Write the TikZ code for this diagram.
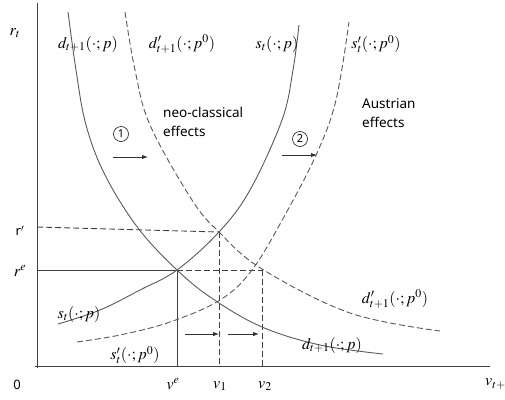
\documentclass[tikz,border=0pt]{standalone}
\usepackage{mathptmx}
\usepackage[no-math]{fontspec}
\setmainfont{Liberation Serif}
\newfontfamily\labsans{Noto Sans}
\usetikzlibrary{arrows.meta}
\tikzset{
  axis/.style={draw=black!75, line width=0.9pt},
  curve/.style={draw=black!65, line width=0.9pt},
  dcurve/.style={draw=black!65, line width=0.9pt, dash pattern=on 6pt off 3pt},
  guide/.style={draw=black!75, line width=0.9pt},
  dguide/.style={draw=black!75, line width=0.9pt, dash pattern=on 6pt off 3pt},
  shiftarrow/.style={draw=black!80, line width=0.9pt, -{Latex[length=6pt,width=4.5pt]}},
  mlab/.style={font=\fontsize{16}{18}\selectfont, inner sep=0pt},
  tlab/.style={font=\labsans\fontsize{13.5}{19}\selectfont, align=left, anchor=north west, inner sep=0pt},
  circ/.style={circle, draw=black!80, line width=0.7pt, minimum size=15pt, inner sep=0pt, font=\labsans\fontsize{11}{12}\selectfont}
}
\begin{document}
\begin{tikzpicture}[x=1pt,y=-1pt]
\useasboundingbox (0,0) rectangle (505,399);
% axes
\draw[axis] (37,3) -- (37,368);
\draw[axis] (35,366) -- (490,366);
% key points
\coordinate (E) at (177,270);
\coordinate (A) at (219,232);
\coordinate (B) at (262,270);
\coordinate (ry1) at (37,227);
\coordinate (ry2) at (37,270);
\coordinate (ve) at (177,366);
\coordinate (v1) at (219,366);
\coordinate (v2) at (262,366);
% guide lines
\draw[dguide] (ry1) -- (A);
\draw[guide] (ry2) -- (E);
\draw[dguide] (E) -- (B);
\draw[guide] (E) -- (ve);
\draw[dguide] (A) -- (v1);
\draw[dguide] (B) -- (v2);
% curves
\draw[curve] plot[smooth, tension=0.6] coordinates {(68,12) (76,70) (86,125) (105,175) (138,228) (177,270) (213,299) (262,327) (320,345) (383,354)};
\draw[dcurve] plot[smooth, tension=0.6] coordinates {(125,12) (135,70) (150,125) (192,200) (219,232) (262,269) (350,313) (440,331)};
\draw[curve] plot[smooth, tension=0.6] coordinates {(58,324) (100,310) (140,290) (177,270) (219,232) (250,190) (282,120) (293,70) (299,25)};
\draw[dcurve] plot[smooth, tension=0.6] coordinates {(77,342) (120,335) (170,322) (220,300) (252,270) (285,215) (317,153) (336,100) (349,22)};
% shift arrows
\coordinate (a1s) at (113,157); \coordinate (a1e) at (148,157);
\coordinate (a2s) at (282,155); \coordinate (a2e) at (317,155);
\coordinate (a3s) at (185,334); \coordinate (a3e) at (219,334);
\coordinate (a4s) at (228,334); \coordinate (a4e) at (259,334);
\draw[shiftarrow] (a1s) -- (a1e);
\draw[shiftarrow] (a2s) -- (a2e);
\draw[shiftarrow] (a3s) -- (a3e);
\draw[shiftarrow] (a4s) -- (a4e);
% labels
\node[circ] (c1) at (121,134) {1};
\node[circ] (c2) at (300,139) {2};
\node[tlab] (neo) at (163,107) {neo-classical\\effects};
\node[tlab] (aus) at (362,98) {Austrian\\effects};
\node[mlab] (l1) at (88,44) {$d_{t+1}(\cdot;p)$};
\node[mlab] (l2) at (182,44) {$d'_{t+1}(\cdot;p^0)$};
\node[mlab] (l3) at (277,44) {$s_t(\cdot;p)$};
\node[mlab] (l4) at (376,44) {$s'_t(\cdot;p^0)$};
\node[mlab] (l5) at (79,314) {$s_t(\cdot;p)$};
\node[mlab] (l6) at (135,355) {$s'_t(\cdot;p^0)$};
\node[mlab] (l7) at (395,299) {$d'_{t+1}(\cdot;p^0)$};
\node[mlab] (l8) at (332,345) {$d_{t+1}(\cdot;p)$};
\node[mlab] (rt) at (15,33) {$r_t$};
\node[font=\labsans\fontsize{13}{15}\selectfont, inner sep=0pt] (rp) at (20,231) {r$'$};
\node[mlab] (re) at (20,271) {$r^e$};
\node[font=\labsans\fontsize{13}{15}\selectfont, inner sep=0pt] (zero) at (17,385) {0};
\node[mlab] (vel) at (173,384) {$v^e$};
\node[mlab] (v1l) at (220,386) {$v_1$};
\node[mlab] (v2l) at (265,386) {$v_2$};
\node[mlab, anchor=west] (vtl) at (485,384) {$v_{t+1}$};
\end{tikzpicture}
\end{document}
